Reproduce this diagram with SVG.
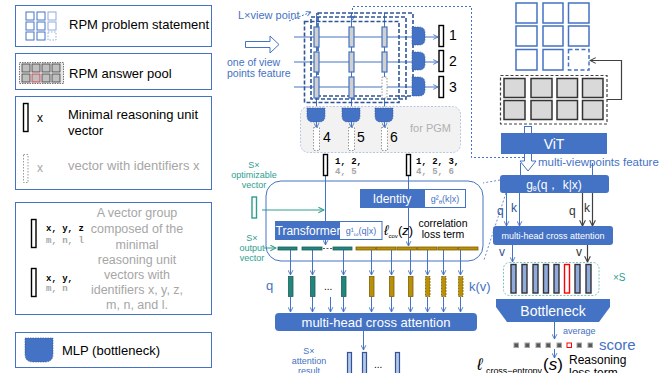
<svg xmlns="http://www.w3.org/2000/svg" width="659" height="373" viewBox="0 0 659 373">
<style>
text{font-family:"Liberation Sans",Arial,sans-serif}
.panel{fill:#fff;stroke:#4472C4;stroke-width:1}
.lg{font-size:13px;fill:#000}
.gray{fill:#a6a6a6}
.blue{fill:#4472C4}
.teal{fill:#2E9E8F}
.bl{stroke:#4472C4;stroke-width:1;fill:none}
.dk{stroke:#404040;stroke-width:1.2;fill:none}
.mlp{fill:#4472C4;stroke:#2F5597;stroke-width:0.6;stroke-dasharray:1.5,1}
.gv{fill:#d0d0d0;stroke:#4472C4;stroke-width:1.2}
.bv{fill:#fff;stroke:#000;stroke-width:1.4}
.dv{fill:#fff;stroke:#999;stroke-width:1;stroke-dasharray:1.5,1.5}
.dbox{fill:none;stroke:#2F5597;stroke-width:1.6;stroke-dasharray:4,2}
.tb{fill:#23867C;stroke:#1d5f5a;stroke-width:0.8}
.gb{fill:#B8900A;stroke:#7f6000;stroke-width:0.8}
.num{font-size:14px;fill:#000}
.mono{font-family:"Liberation Mono","DejaVu Sans Mono",monospace;font-size:9px;font-weight:bold}
.wt{fill:#fff}
.cand{fill:#8FAADC;stroke:#333;stroke-width:1.4}
.sq{fill:#fff;stroke:#4472C4;stroke-width:1.5}
.ap{fill:#d9d9d9;stroke:#333;stroke-width:1.5}
</style>
<defs>
<marker id="ab" viewBox="0 0 10 10" refX="9" refY="5" markerWidth="6" markerHeight="6" orient="auto"><path d="M1,1 L9,5 L1,9" fill="none" stroke="#4472C4" stroke-width="1.5"/></marker>
<marker id="at" viewBox="0 0 10 10" refX="9" refY="5" markerWidth="7" markerHeight="7" orient="auto"><path d="M1,1 L9,5 L1,9" fill="none" stroke="#2E9E8F" stroke-width="1.5"/></marker>
<marker id="ad" viewBox="0 0 10 10" refX="9" refY="5" markerWidth="6" markerHeight="6" orient="auto"><path d="M1,1 L9,5 L1,9" fill="none" stroke="#404040" stroke-width="1.5"/></marker>
</defs>
<rect width="659" height="373" fill="#fff"/>

<!-- Legend -->
<g id="legend-problem">
<rect class="panel" x="15.5" y="5.5" width="196" height="41"/>
<g fill="#fff" stroke="#4472C4" stroke-width="1">
<rect x="26" y="12" width="8" height="8"/><rect x="37" y="12" width="8" height="8"/><rect x="48" y="12" width="8" height="8" stroke="#8FAADC"/>
<rect x="26" y="22" width="8" height="8"/><rect x="37" y="22" width="8" height="8"/><rect x="48" y="22" width="8" height="8" stroke="#8FAADC"/>
<rect x="26" y="32" width="8" height="8"/><rect x="37" y="32" width="8" height="8"/><rect x="48" y="32" width="8" height="8" stroke="#8FAADC" stroke-dasharray="1.5,1.5"/>
</g>
<text class="lg" x="69" y="29">RPM problem statement</text>
</g>
<g id="legend-pool">
<rect class="panel" x="15.5" y="53.5" width="196" height="36"/>
<rect x="19.5" y="62.5" width="44" height="21" fill="#e8e8e8" stroke="#555" stroke-width="0.8" stroke-dasharray="1.5,1"/>
<g fill="#bfbfbf" stroke="#404040" stroke-width="0.8">
<rect x="22" y="64" width="8" height="8"/><rect x="32" y="64" width="8" height="8"/><rect x="42" y="64" width="8" height="8"/><rect x="52" y="64" width="8" height="8"/>
<rect x="22" y="74" width="8" height="8"/><rect x="32" y="74" width="8" height="8" stroke="#d9303a"/><rect x="42" y="74" width="8" height="8"/><rect x="52" y="74" width="8" height="8"/>
</g>
<text class="lg" x="69" y="78">RPM answer pool</text>
</g>
<g id="legend-unit">
<rect class="panel" x="15.5" y="96.5" width="196" height="93"/>
<rect class="bv" x="23.5" y="103.5" width="4.5" height="28"/>
<text x="37" y="122" font-size="12">x</text>
<text class="lg" x="68" y="119">Minimal reasoning unit</text>
<text class="lg" x="68" y="135">vector</text>
<rect class="dv" x="23.5" y="154.5" width="4.5" height="28"/>
<text x="37" y="172" font-size="12" class="gray">x</text>
<text class="lg gray" x="68" y="170">vector with identifiers x</text>
</g>
<g id="legend-group">
<rect class="panel" x="15.5" y="202.5" width="196" height="112"/>
<rect class="bv" x="31.5" y="219.5" width="4.5" height="28"/>
<text class="mono" x="46" y="231" font-size="8">x, y, z</text>
<text class="mono gray" x="46" y="243" font-size="8" font-weight="normal">m, n, l</text>
<rect class="bv" x="31.5" y="268.5" width="4.5" height="28"/>
<text class="mono" x="46" y="281" font-size="8">x, y,</text>
<text class="mono gray" x="46" y="291" font-size="8" font-weight="normal">m, n</text>
<g class="gray" font-size="12.5" text-anchor="middle">
<text x="137" y="217">A vector group</text>
<text x="137" y="233">composed of the</text>
<text x="137" y="249">minimal</text>
<text x="137" y="264">reasoning unit</text>
<text x="137" y="279">vectors with</text>
<text x="137" y="294">identifiers x, y, z,</text>
<text x="137" y="309">m, n, and l.</text>
</g>
</g>
<g id="legend-mlp">
<rect class="panel" x="15.5" y="332.5" width="196" height="35"/>
<path class="mlp" d="M25,338 H53 V354 Q53,362 45,362 H33 Q25,362 25,354 Z"/>
<text class="lg" x="62" y="355">MLP (bottleneck)</text>
</g>

<!-- Connectors -->
<g id="connectors">
<path d="M289,21 L311,12" stroke="#4472C4" stroke-width="1" stroke-dasharray="2,1.5" fill="none" marker-end="url(#ab)"/>
<path d="M528,157.5 H471.5 V6.5 H352.5 V20" stroke="#4472C4" stroke-width="1" stroke-dasharray="2,2" fill="none" marker-end="url(#ab)"/>
<line class="bl" x1="294" y1="37" x2="438" y2="37" marker-end="url(#ab)"/>
<line class="bl" x1="294" y1="62" x2="438" y2="62" marker-end="url(#ab)"/>
<line class="bl" x1="294" y1="87" x2="438" y2="87" marker-end="url(#ab)"/>
<line class="bl" x1="316.5" y1="13" x2="316.5" y2="128" marker-end="url(#ab)"/>
<line class="bl" x1="351.5" y1="13" x2="351.5" y2="128" marker-end="url(#ab)"/>
<line class="bl" x1="384.5" y1="13" x2="384.5" y2="128" marker-end="url(#ab)"/>
<line class="bl" x1="325.5" y1="176" x2="325.5" y2="245" marker-end="url(#ab)"/>
<line class="bl" x1="408.5" y1="176" x2="408.5" y2="246" marker-end="url(#ab)"/>
<line x1="262" y1="210" x2="324" y2="210" stroke="#2E9E8F" stroke-width="1" marker-end="url(#at)"/>
<line x1="264" y1="248" x2="276" y2="248" stroke="#2E9E8F" stroke-width="1" marker-end="url(#at)"/>
<g class="bl">
<line x1="290.5" y1="250" x2="290.5" y2="275" marker-end="url(#ab)"/>
<line x1="312.5" y1="250" x2="312.5" y2="275" marker-end="url(#ab)"/>
<line x1="343.5" y1="250" x2="343.5" y2="275" marker-end="url(#ab)"/>
<line x1="371.5" y1="250" x2="371.5" y2="275" marker-end="url(#ab)"/>
<line x1="391.5" y1="250" x2="391.5" y2="275" marker-end="url(#ab)"/>
<line x1="410.5" y1="250" x2="410.5" y2="275" marker-end="url(#ab)"/>
<line x1="427.5" y1="250" x2="427.5" y2="275" marker-end="url(#ab)"/>
<line x1="443.5" y1="250" x2="443.5" y2="275" marker-end="url(#ab)"/>
<line x1="460.5" y1="250" x2="460.5" y2="275" marker-end="url(#ab)"/>
<line x1="290.5" y1="297" x2="290.5" y2="312" marker-end="url(#ab)"/>
<line x1="312.5" y1="297" x2="312.5" y2="312" marker-end="url(#ab)"/>
<line x1="330.5" y1="297" x2="330.5" y2="312" marker-end="url(#ab)"/>
<line x1="343.5" y1="297" x2="343.5" y2="312" marker-end="url(#ab)"/>
<line x1="371.5" y1="297" x2="371.5" y2="312" marker-end="url(#ab)"/>
<line x1="391.5" y1="297" x2="391.5" y2="312" marker-end="url(#ab)"/>
<line x1="410.5" y1="297" x2="410.5" y2="312" marker-end="url(#ab)"/>
<line x1="427.5" y1="297" x2="427.5" y2="312" marker-end="url(#ab)"/>
<line x1="443.5" y1="297" x2="443.5" y2="312" marker-end="url(#ab)"/>
<line x1="460.5" y1="297" x2="460.5" y2="312" marker-end="url(#ab)"/>
<line x1="363.5" y1="331" x2="363.5" y2="350" marker-end="url(#ab)"/>
</g>
<path class="dk" d="M607,99.5 H621.5 V60.5 H590" marker-end="url(#ad)"/>
<rect x="524.5" y="126.5" width="7" height="7" fill="#fff" stroke="#4472C4" stroke-width="1"/>
<path d="M524.5,154 V161 H520 L528,171 L536,161 H531.5 V154" fill="#fff" stroke="#4472C4" stroke-width="1"/>
<line class="bl" x1="520.5" y1="163" x2="520.5" y2="175"/>
<line class="bl" x1="592.5" y1="163" x2="592.5" y2="175"/>
<line x1="500" y1="180" x2="483" y2="183" stroke="#4472C4" stroke-width="0.8" stroke-dasharray="2,2"/>
<line x1="506" y1="193" x2="484" y2="260" stroke="#4472C4" stroke-width="0.8" stroke-dasharray="2,2"/>
<line class="bl" x1="506.5" y1="187" x2="506.5" y2="226" marker-end="url(#ab)"/>
<line class="bl" x1="519.5" y1="187" x2="519.5" y2="226" marker-end="url(#ab)"/>
<line class="dk" x1="582.5" y1="187" x2="582.5" y2="226" marker-end="url(#ad)"/>
<line class="dk" x1="592.5" y1="187" x2="592.5" y2="226" marker-end="url(#ad)"/>
<line class="bl" x1="512.5" y1="245" x2="512.5" y2="262" marker-end="url(#ab)"/>
<line class="dk" x1="587.5" y1="245" x2="587.5" y2="262" marker-end="url(#ad)"/>
<line class="bl" x1="554.5" y1="322" x2="554.5" y2="339" marker-end="url(#ab)"/>
<line class="bl" x1="554.5" y1="349" x2="554.5" y2="358" marker-end="url(#ab)"/>
</g>

<g id="input-arrow">
<path d="M245.5,41.5 H270 V36 L279,44.5 L270,53 V47.5 H245.5 Z" fill="#fff" stroke="#4472C4" stroke-width="1"/>
<text class="blue" x="227" y="66" font-size="10.5">one of view</text>
<text class="blue" x="227" y="77" font-size="10.5">points feature</text>
<text class="blue" x="238" y="19" font-size="11">L×view point</text>
</g>

<g id="view-boxes">
<rect class="dbox" x="318" y="13" width="95" height="83"/>
<rect class="dbox" x="311" y="17" width="95" height="82"/>
<rect class="dbox" x="304.5" y="21.5" width="94.5" height="81"/>
</g>

<g id="grid-vectors">
<rect class="gv" x="314" y="27" width="5" height="20"/><rect class="gv" x="349" y="27" width="5" height="20"/><rect class="gv" x="382" y="27" width="5" height="20"/>
<rect class="gv" x="314" y="52" width="5" height="20"/><rect class="gv" x="349" y="52" width="5" height="20"/><rect class="gv" x="382" y="52" width="5" height="20"/>
<rect class="gv" x="314" y="77" width="5" height="21"/><rect class="gv" x="349" y="77" width="5" height="21"/><rect class="dv" x="382" y="77" width="5" height="21"/>
</g>

<g id="row-mlps">
<path class="mlp" d="M412,27 H419 Q425,27 425,33 V39 Q425,45 419,45 H412 Z"/>
<path class="mlp" d="M412,52 H419 Q425,52 425,58 V64 Q425,70 419,70 H412 Z"/>
<path class="mlp" d="M412,77 H419 Q425,77 425,83 V90 Q425,96 419,96 H412 Z"/>
</g>
<g id="row-outputs">
<rect class="bv" x="439" y="25.5" width="4.5" height="21"/>
<rect class="bv" x="439" y="50.5" width="4.5" height="21"/>
<rect class="bv" x="439" y="76.5" width="4.5" height="21"/>
<text class="num" x="449" y="40">1</text>
<text class="num" x="449" y="66">2</text>
<text class="num" x="449" y="92">3</text>
</g>

<g id="pgm">
<rect x="300.5" y="106.5" width="160" height="46" rx="8" fill="#f2f2f2" stroke="#b4c7e7" stroke-width="1" stroke-dasharray="2,1.5"/>
<text x="410" y="132" font-size="11" fill="#b0b0b0">for PGM</text>
<path class="mlp" d="M307,108 H325 V116 Q325,122 319,122 H313 Q307,122 307,116 Z"/>
<path class="mlp" d="M342,108 H360 V116 Q360,122 354,122 H348 Q342,122 342,116 Z"/>
<path class="mlp" d="M375,108 H393 V116 Q393,122 387,122 H381 Q375,122 375,116 Z"/>
<line class="bl" x1="316.5" y1="122" x2="316.5" y2="128" marker-end="url(#ab)"/>
<line class="bl" x1="351.5" y1="122" x2="351.5" y2="128" marker-end="url(#ab)"/>
<line class="bl" x1="384.5" y1="122" x2="384.5" y2="128" marker-end="url(#ab)"/>
<rect class="dv" x="313.5" y="127.5" width="6" height="23"/>
<rect class="dv" x="348.5" y="127.5" width="6" height="23"/>
<rect class="dv" x="381.5" y="127.5" width="6" height="23"/>
<text class="num" x="323" y="142">4</text>
<text class="num" x="357" y="142">5</text>
<text class="num" x="390" y="142">6</text>
</g>

<g id="vector-groups">
<rect class="bv" x="323.5" y="154.5" width="4" height="21"/>
<text class="mono" x="335" y="164">1, 2,</text>
<text class="mono gray" x="335" y="174" font-weight="normal">4, 5</text>
<rect class="bv" x="406.5" y="154.5" width="4" height="21"/>
<text class="mono" x="416" y="164">1, 2, 3,</text>
<text class="mono gray" x="416" y="174" font-weight="normal">4, 5, 6</text>
</g>

<g id="optim-vector">
<text class="teal" font-size="9" text-anchor="middle" x="254" y="168">S×</text>
<text class="teal" font-size="9" text-anchor="middle" x="254" y="178">optimizable</text>
<text class="teal" font-size="9" text-anchor="middle" x="254" y="188">vector</text>
<rect x="252" y="197" width="4.5" height="21" fill="#fff" stroke="#2E9E8F" stroke-width="1.4"/>
<text class="teal" font-size="9" text-anchor="middle" x="252" y="241">S×</text>
<text class="teal" font-size="9" text-anchor="middle" x="252" y="251">output</text>
<text class="teal" font-size="9" text-anchor="middle" x="252" y="261">vector</text>
</g>

<g id="g-module">
<rect x="266" y="181" width="217" height="80" rx="15" fill="none" stroke="#4472C4" stroke-width="1"/>
<g id="identity">
<rect x="360.5" y="189.5" width="105" height="18" fill="#fff" stroke="#4472C4"/>
<rect x="360.5" y="189.5" width="64.5" height="18" fill="#4472C4"/>
<text class="wt" x="392" y="202.5" font-size="12" text-anchor="middle">Identity</text>
<text class="blue" x="445" y="202" font-size="9" text-anchor="middle">g²<tspan font-size="6" dy="2">θ</tspan><tspan dy="-2">(k|x)</tspan></text>
</g>
<g id="transformer">
<rect x="275.5" y="221.5" width="106.5" height="18" fill="#fff" stroke="#4472C4"/>
<rect x="275.5" y="221.5" width="64.5" height="18" fill="#4472C4"/>
<text class="wt" x="308" y="234.5" font-size="12" text-anchor="middle">Transformer</text>
<text class="blue" x="361" y="234" font-size="9" text-anchor="middle">g¹<tspan font-size="6" dy="2">ω</tspan><tspan dy="-2">(q|x)</tspan></text>
</g>
<text font-family="Liberation Serif,serif" x="384" y="235"><tspan font-size="14" font-style="italic">ℓ</tspan><tspan font-size="6" dy="3">cov</tspan><tspan font-size="13" dy="-3">(</tspan><tspan font-size="13" font-style="italic">z</tspan><tspan font-size="13">)</tspan></text>
<text x="443" y="227" font-size="10.5" text-anchor="middle">correlation</text>
<text x="443" y="238" font-size="10.5" text-anchor="middle">loss term</text>
<g id="output-bars">
<rect class="tb" x="278" y="247" width="19" height="3"/>
<rect class="tb" x="302" y="247" width="20" height="3"/>
<rect class="tb" x="333" y="247" width="19" height="3"/>
<line x1="323" y1="248.5" x2="332" y2="248.5" stroke="#333" stroke-width="0.8" stroke-dasharray="2,1.5"/>
<rect class="gb" x="356" y="247" width="19.5" height="3"/>
<rect class="gb" x="376.5" y="247" width="19.5" height="3"/>
<rect class="gb" x="397" y="247" width="19.5" height="3"/>
<rect class="gb" x="417.5" y="247" width="19.5" height="3"/>
<rect class="gb" x="438" y="247" width="19.5" height="3"/>
<rect class="gb" x="458.5" y="247" width="19.5" height="3"/>
</g>
</g>

<g id="qk-vectors">
<text class="blue" x="266" y="290" font-size="13">q</text>
<rect class="tb" x="288.5" y="276.5" width="4.5" height="20" stroke="#2F5597"/>
<rect class="tb" x="310.5" y="276.5" width="4.5" height="20" stroke="#2F5597"/>
<text x="324" y="290" font-size="10">...</text>
<rect class="tb" x="341.5" y="276.5" width="4.5" height="20" stroke="#2F5597"/>
<rect class="gb" x="369.5" y="276.5" width="4.5" height="20" stroke="#5a5a7a"/>
<rect class="gb" x="389.5" y="276.5" width="4.5" height="20" stroke="#5a5a7a"/>
<rect class="gb" x="408.5" y="276.5" width="4.5" height="20" stroke="#5a5a7a"/>
<rect class="gb" x="425.5" y="276.5" width="4.5" height="20" stroke="#5a5a7a" stroke-dasharray="2,1"/>
<rect class="gb" x="441.5" y="276.5" width="4.5" height="20" stroke="#5a5a7a" stroke-dasharray="2,1"/>
<rect class="gb" x="458.5" y="276.5" width="4.5" height="20" stroke="#5a5a7a" stroke-dasharray="2,1"/>
<text class="blue" x="469" y="291" font-size="13">k(v)</text>
</g>

<g id="mhca-mid">
<rect x="275" y="313" width="202" height="18" rx="4" fill="#4472C4"/>
<text class="wt" x="376" y="327" font-size="13" text-anchor="middle">multi-head cross attention</text>
</g>

<g id="attention-result">
<text class="blue" x="309" y="354" font-size="9" text-anchor="middle">S×</text>
<text class="blue" x="309" y="364" font-size="9" text-anchor="middle">attention</text>
<text class="blue" x="309" y="374" font-size="9" text-anchor="middle">result</text>
<rect x="347.5" y="352.5" width="4" height="24" fill="#b4c7e7" stroke="#2F5597" stroke-width="1.2"/>
<rect x="362.5" y="352.5" width="4" height="24" fill="#b4c7e7" stroke="#2F5597" stroke-width="1.2"/>
<text x="374" y="368" font-size="10">...</text>
<rect x="395.5" y="352.5" width="4" height="24" fill="#b4c7e7" stroke="#2F5597" stroke-width="1.2"/>
</g>

<g id="problem-grid">
<rect class="sq" x="516" y="3" width="21" height="20"/><rect class="sq" x="543" y="3" width="20" height="20"/><rect class="sq" x="568.5" y="3" width="20.5" height="20"/>
<rect class="sq" x="516" y="26" width="21" height="20"/><rect class="sq" x="543" y="26" width="20" height="20"/><rect class="sq" x="568.5" y="26" width="20.5" height="20"/>
<rect class="sq" x="516" y="49.5" width="21" height="20.5"/><rect class="sq" x="543" y="49.5" width="20" height="20.5"/><rect class="sq" x="568.5" y="49.5" width="20.5" height="20.5" stroke-dasharray="4,2.5"/>
</g>
<g id="answer-pool">
<rect x="500.5" y="75.5" width="106.5" height="48.5" fill="#fff" stroke="#404040" stroke-width="1.2" stroke-dasharray="3,2"/>
<rect class="ap" x="504" y="78.5" width="21" height="19"/><rect class="ap" x="531" y="78.5" width="21" height="19"/><rect class="ap" x="557" y="78.5" width="20.5" height="19"/><rect class="ap" x="582.5" y="78.5" width="20.5" height="19"/>
<rect class="ap" x="504" y="100.5" width="21" height="19"/><rect class="ap" x="531" y="100.5" width="21" height="19" stroke="#d9303a"/><rect class="ap" x="557" y="100.5" width="20.5" height="19"/><rect class="ap" x="582.5" y="100.5" width="20.5" height="19"/>
</g>
<g id="vit">
<rect x="501" y="133" width="106" height="21" fill="#4472C4"/>
<text class="wt" x="554" y="149" font-size="14" text-anchor="middle">ViT</text>
<text class="blue" x="538" y="166" font-size="11.5">multi-viewpoints feature</text>
</g>
<g id="g-theta">
<rect x="500" y="175" width="109" height="18" rx="3" fill="#4472C4"/>
<text class="wt" x="554" y="188.5" font-size="12" text-anchor="middle">g<tspan font-size="7" dy="2">θ</tspan><tspan dy="-2">(q， k|x)</tspan></text>
<text x="497" y="215" font-size="12" fill="#2F5597">q</text>
<text x="511" y="212" font-size="12" fill="#2F5597">k</text>
<text x="569" y="215" font-size="12" fill="#333">q</text>
<text x="584" y="212" font-size="12" fill="#333">k</text>
</g>
<g id="mhca-right">
<rect x="493" y="226" width="120" height="19" rx="3" fill="#4472C4"/>
<text class="wt" x="553" y="239" font-size="9" text-anchor="middle">multi-head cross attention</text>
<text x="499" y="256" font-size="12" fill="#2F5597">v</text>
<text x="576" y="256" font-size="12" fill="#333">v</text>
</g>
<g id="candidates">
<rect x="503.5" y="262.5" width="95.5" height="33" rx="6" fill="#fff" stroke="#7fc6bd" stroke-width="1" stroke-dasharray="2,1.5"/>
<rect class="cand" x="511" y="264.5" width="5" height="28.5"/>
<rect class="cand" x="522" y="264.5" width="5" height="28.5"/>
<rect class="cand" x="533" y="264.5" width="5" height="28.5"/>
<rect class="cand" x="543.5" y="264.5" width="5" height="28.5"/>
<rect class="cand" x="554" y="264.5" width="5" height="28.5"/>
<rect x="564.5" y="264.5" width="5" height="28.5" fill="#fff" stroke="#ff0000" stroke-width="1.4"/>
<rect class="cand" x="575" y="264.5" width="5" height="28.5"/>
<rect class="cand" x="586" y="264.5" width="5" height="28.5"/>
<text class="teal" x="613" y="281" font-size="10">×S</text>
</g>
<g id="bottleneck">
<path d="M496,299 H610 V307 L599,322 H507 L496,307 Z" fill="#4472C4"/>
<text class="wt" x="553" y="316" font-size="14" text-anchor="middle">Bottleneck</text>
<text class="blue" x="563" y="334" font-size="9">average</text>
</g>
<g id="score">
<g fill="#595959" stroke="#a6a6a6" stroke-width="1">
<rect x="514" y="343" width="4.5" height="4.5"/><rect x="525" y="343" width="4.5" height="4.5"/><rect x="536" y="343" width="4.5" height="4.5"/><rect x="546" y="343" width="4.5" height="4.5"/><rect x="557" y="343" width="4.5" height="4.5"/>
<rect x="567" y="343" width="4.5" height="4.5" fill="#fff" stroke="#ff0000"/>
<rect x="577" y="343" width="4.5" height="4.5"/><rect x="588" y="343" width="4.5" height="4.5"/>
</g>
<text class="blue" x="599" y="350" font-size="15">score</text>
</g>
<g id="reasoning-loss">
<text font-family="Liberation Serif,serif" x="477" y="370" font-size="17" font-style="italic">ℓ</text>
<text font-family="Liberation Serif,serif" x="486" y="374" font-size="9" textLength="56" lengthAdjust="spacingAndGlyphs">cross−entropy</text>
<text font-family="Liberation Serif,serif" x="543" y="370" font-size="17">(<tspan font-style="italic">s</tspan>)</text>
<text x="569" y="364" font-size="12">Reasoning</text>
<text x="569" y="377" font-size="12">loss term</text>
</g>
</svg>
